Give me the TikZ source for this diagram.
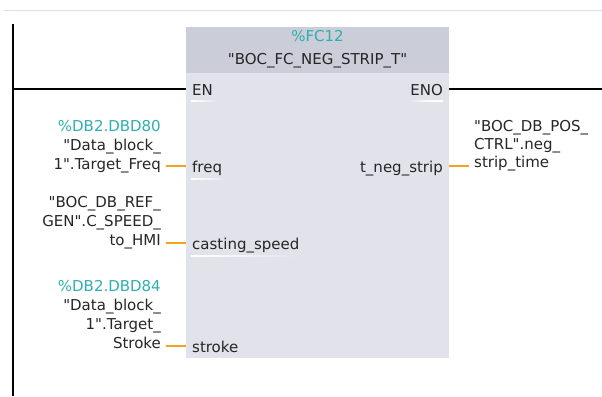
\documentclass[tikz,border=0pt]{standalone}
\usepackage{fontspec}
\setmainfont{DejaVu Sans}[Ligatures=TeXOff]
\definecolor{hdrgray}{HTML}{CBCDD9}
\definecolor{bodygray}{HTML}{E1E2EA}
\definecolor{tealtxt}{HTML}{2EAFAF}
\definecolor{wireor}{HTML}{F7A21B}
\definecolor{topline}{HTML}{DCDCF0}
\definecolor{txt}{HTML}{262626}
\begin{document}
\begin{tikzpicture}[x=1pt,y=-1pt,
  txtstyle/.style={font=\fontsize{15}{19}\selectfont, inner sep=0pt, text=txt},
  pinlbl/.style={txtstyle},
  rail/.style={line width=2.2pt, black},
  orwire/.style={line width=2pt, wireor},
  pinline/.style={left color=white, right color=bodygray, middle color=white!60!bodygray},
  pinliner/.style={left color=bodygray, right color=white, middle color=white!80!bodygray},
]
\useasboundingbox (0,0) rectangle (602,396);
\fill[white] (0,0) rectangle (602,396);
% top separator
\draw[topline, line width=1pt] (4,11) -- (602,11);
% power rail
\coordinate (railtop) at (13,24);
\coordinate (railbot) at (13,396);
\draw[rail] (railtop) -- (railbot);
% block
\node[fill=bodygray, draw=none, minimum width=263pt, minimum height=331pt, inner sep=0pt, anchor=north west] (blk) at (186,27) {};
\fill[hdrgray] (blk.north west) rectangle (449,73);
\node[txtstyle, text=tealtxt, anchor=base] (fcaddr) at (317.5,42) {\%FC12};
\node[txtstyle, anchor=base] (fcname) at (317.5,65) {"BOC\_FC\_NEG\_STRIP\_T"};
% pin connection points
\coordinate (pEN) at (186,89);
\coordinate (pENO) at (449,89);
\coordinate (pfreq) at (186,166);
\coordinate (pcast) at (186,243);
\coordinate (pstroke) at (186,346);
\coordinate (ptneg) at (449,166);
\coordinate (railEN) at (13,89);
\coordinate (enoend) at (602,89);
\coordinate (wfreq) at (166,166);
\coordinate (wcast) at (166,243);
\coordinate (wstroke) at (166,346);
\coordinate (wtneg) at (469,166);
% pin labels
\node[pinlbl, anchor=base west] (en) at (192,95) {EN};
\node[pinlbl, anchor=base east] (eno) at (443,95) {ENO};
\node[pinlbl, anchor=base west] (freq) at (192,172.5) {freq};
\node[pinlbl, anchor=base east] (tneg) at (443,172.5) {t\_neg\_strip};
\node[pinlbl, anchor=base west] (cast) at (192,249.5) {casting\_speed};
\node[pinlbl, anchor=base west] (stroke) at (192,352.5) {stroke};
% faint underlines
\shade[pinline] (191,100.4) rectangle (219,101.8);
\shade[pinliner] (408,100.4) rectangle (443,101.8);
\shade[pinline] (191,178.4) rectangle (228,179.8);
\shade[pinline] (191,255.4) rectangle (298,256.8);
% wires
\draw[rail] (railEN) -- (pEN);
\draw[rail] (pENO) -- (enoend);
\draw[orwire] (wfreq) -- (pfreq);
\draw[orwire] (wcast) -- (pcast);
\draw[orwire] (wstroke) -- (pstroke);
\draw[orwire] (ptneg) -- (wtneg);
% operand labels
\node[txtstyle, anchor=base east] (opfreq) at (161,169) {\begin{tabular}[b]{@{}r@{}}\textcolor{tealtxt}{\%DB2.DBD80}\\"Data\_block\_\\1".Target\_Freq\end{tabular}};
\node[txtstyle, anchor=base east] (opcast) at (161,245) {\begin{tabular}[b]{@{}r@{}}"BOC\_DB\_REF\_\\GEN".C\_SPEED\_\\to\_HMI\end{tabular}};
\node[txtstyle, anchor=base east] (opstroke) at (161,348) {\begin{tabular}[b]{@{}r@{}}\textcolor{tealtxt}{\%DB2.DBD84}\\"Data\_block\_\\1".Target\_\\Stroke\end{tabular}};
\node[txtstyle, anchor=base west, font=\fontsize{15}{17.7}\selectfont] (optneg) at (474,167) {\begin{tabular}[b]{@{}l@{}}"BOC\_DB\_POS\_\\CTRL".neg\_\\strip\_time\end{tabular}};
\end{tikzpicture}
\end{document}
